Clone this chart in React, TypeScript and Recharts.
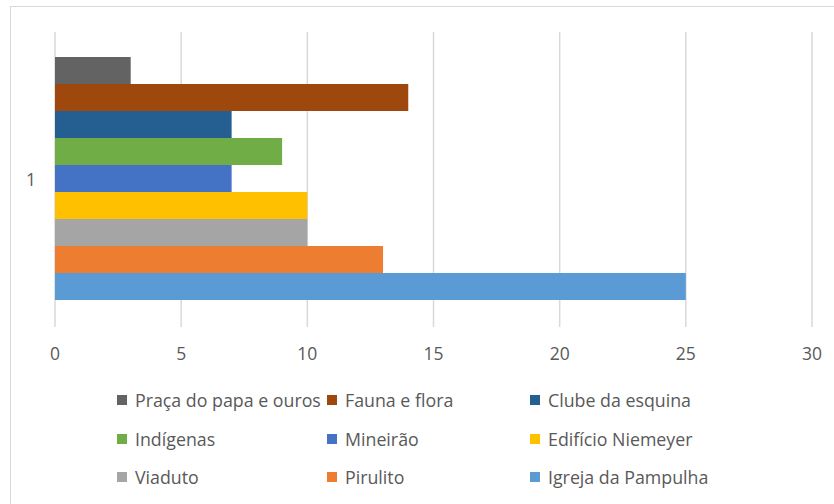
import React from 'react';
import { BarChart, Bar, XAxis, YAxis, CartesianGrid, Legend } from 'recharts';

const categories = ['1'];
const seriesNames = [
  'Praça do papa e ouros',
  'Fauna e flora',
  'Clube da esquina',
  'Indígenas',
  'Mineirão',
  'Edifício Niemeyer',
  'Viaduto',
  'Pirulito',
  'Igreja da Pampulha',
];
const seriesValues = [3, 14, 7, 9, 7, 10, 10, 13, 25];
const seriesColors = [
  '#636363',
  '#9e480e',
  '#255e91',
  '#70ad47',
  '#4472c4',
  '#ffc000',
  '#a5a5a5',
  '#ed7d31',
  '#5b9bd5',
];
const xTicks = [0, 5, 10, 15, 20, 25, 30];

const data = categories.map((c) => {
  const row: Record<string, string | number> = { name: c };
  seriesNames.forEach((s, i) => {
    row[s] = seriesValues[i];
  });
  return row;
});

const FONT = '"Open Sans", "Noto Sans", sans-serif';
const TEXT = '#595959';

// legend keeps the series order (3 columns), like the Excel one
function LegendGrid() {
  const colX = [117, 327, 530];
  return (
    <div style={{ position: 'relative', width: 834, height: 120, fontFamily: FONT }}>
      {seriesNames.map((s, i) => (
        <div
          key={s}
          style={{
            position: 'absolute',
            left: colX[i % 3],
            top: Math.floor(i / 3) * 38.5,
            height: 38,
            display: 'flex',
            alignItems: 'center',
            fontSize: 17.8,
            color: TEXT,
            whiteSpace: 'nowrap',
          }}
        >
          <span
            style={{ width: 10, height: 10, background: seriesColors[i], marginRight: 8, display: 'inline-block' }}
          />
          {s}
        </div>
      ))}
    </div>
  );
}

export default function App() {
  return (
    <div style={{ position: 'absolute', left: 0, top: 0, width: 834, height: 504, overflow: 'hidden', background: '#fff' }}>
      <div
        style={{
          position: 'absolute',
          left: 10,
          top: 6,
          width: 840,
          height: 520,
          border: '1.5px solid #d9d9d9',
          boxSizing: 'border-box',
        }}
      />
      <div style={{ position: 'absolute', left: 0, top: 0 }}>
        <BarChart
          width={834}
          height={504}
          data={data}
          layout="vertical"
          margin={{ top: 32, right: 22, bottom: 17, left: 0 }}
          barCategoryGap={25}
          barGap={0}
        >
          <CartesianGrid horizontal={false} stroke="#d9d9d9" strokeWidth={1.5} />
          <XAxis
            type="number"
            domain={[0, 30]}
            ticks={xTicks}
            axisLine={false}
            tickLine={false}
            tickMargin={15}
            height={40}
            tick={{ fill: TEXT, fontSize: 17.5, fontFamily: FONT }}
          />
          <YAxis
            type="category"
            dataKey="name"
            width={55}
            axisLine={false}
            tickLine={false}
            tickMargin={13}
            tick={{ fill: TEXT, fontSize: 17.5, fontFamily: FONT }}
          />
          <Legend
            verticalAlign="bottom"
            height={120}
            wrapperStyle={{ top: 381, left: 0, width: 834 }}
            content={<LegendGrid />}
          />
          {seriesNames.map((s, i) => (
            <Bar key={s} dataKey={s} fill={seriesColors[i]} isAnimationActive={false} />
          ))}
        </BarChart>
      </div>
    </div>
  );
}
